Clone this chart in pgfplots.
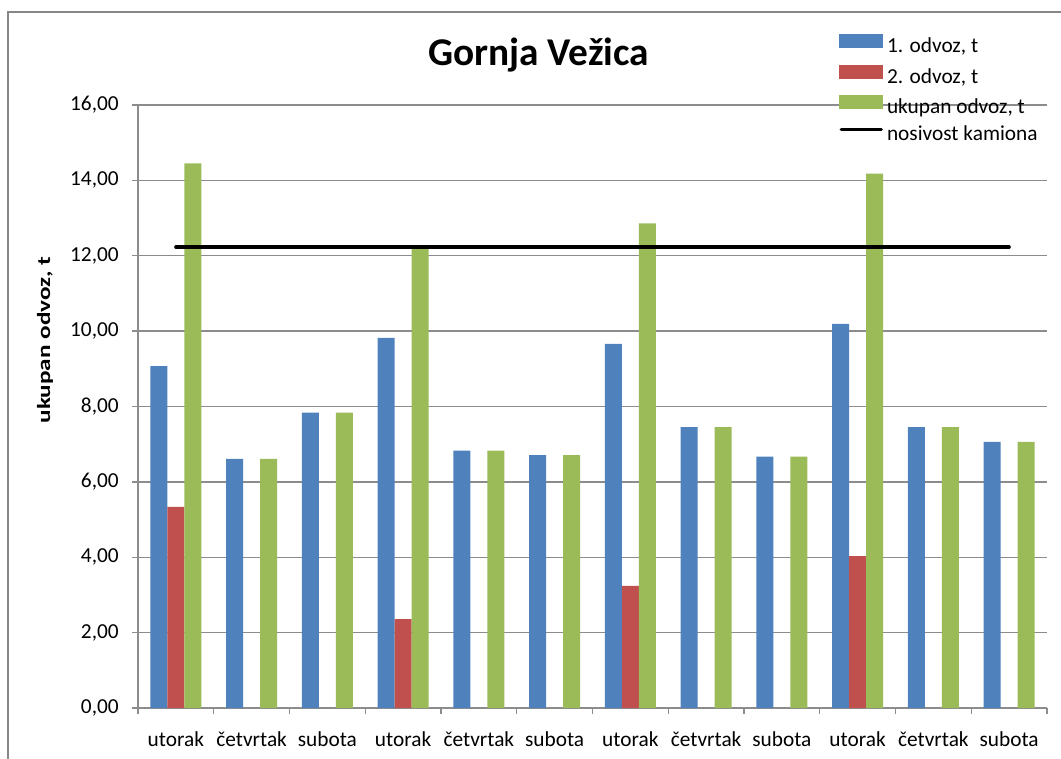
\documentclass[border=0pt]{standalone}
\usepackage{fontspec}
\setmainfont{Carlito}
\usepackage{pgfplots}
\pgfplotsset{compat=1.18}
\definecolor{cBlue}{HTML}{4F81BD}
\definecolor{cRed}{HTML}{C0504D}
\definecolor{cGreen}{HTML}{9BBB59}
\definecolor{cAxis}{HTML}{8C8C8C}
\definecolor{cFrame}{HTML}{878787}
\begin{document}
\begin{tikzpicture}[x=1pt,y=1pt]
\path[use as bounding box] (0,0) rectangle (795.75,568.5);
\draw[cFrame, line width=1.1pt] (6,-2) -- (6,559.5) -- (798,559.5);
\node[font=\fontsize{29.5}{33}\selectfont\bfseries, anchor=base] at (404,519) {Gornja Vežica};
\node[rotate=90, anchor=center] at (33.75,313.5) {\scalebox{1.35}[1]{\fontsize{14}{16}\selectfont\bfseries ukupan odvoz, t}};
\begin{axis}[
  at={(103.5pt,37.5pt)}, anchor=south west,
  scale only axis, width=681.75pt, height=452.25pt,
  xmin=-0.5, xmax=11.5, ymin=0, ymax=16,
  ytick={0,2,...,16},
  xtick={-0.5,0.5,...,11.5},
  xticklabels={utorak,četvrtak,subota,utorak,četvrtak,subota,utorak,četvrtak,subota,utorak,četvrtak,subota,{}},
  axis x line*=bottom, axis y line*=left,
  axis line style={cAxis, line width=1pt, -},
  ymajorgrids, grid style={cAxis, line width=1pt},
  tick align=outside, major tick length=4.5pt,
  tick style={cAxis, line width=1pt},
  /pgf/number format/assume math mode=true,
  tick label style={font=\fontsize{16}{19}\selectfont, text=black},
  yticklabel style={/pgf/number format/fixed, /pgf/number format/fixed zerofill, /pgf/number format/precision=2, /pgf/number format/use comma, inner sep=0pt, anchor=east, xshift=-9.75pt},
  xticklabel style={inner sep=0pt, anchor=base, xshift=28.406pt, yshift=-24pt},
  legend style={at={(axis description cs:0.7712,1.1177)}, anchor=north west, draw=none, fill=none,
    font=\fontsize{16}{19}\selectfont, inner sep=0pt, row sep=5.6pt, column sep=2.8pt,
    nodes={inner sep=0pt, text height=11pt, text depth=3.5pt}},
  legend cell align=left,
]
\addplot[ybar, bar width=0.225, bar shift=-0.225, fill=cBlue, draw=none,
  legend image code/.code={\fill[cBlue] (0pt,-0.5pt) rectangle (33pt,10pt);}]
  coordinates {(0,9.07) (1,6.61) (2,7.84) (3,9.82) (4,6.83) (5,6.71) (6,9.66) (7,7.45) (8,6.67) (9,10.19) (10,7.45) (11,7.06)};
\addlegendentry{1. odvoz, t}
\addplot[ybar, bar width=0.225, bar shift=0, fill=cRed, draw=none,
  legend image code/.code={\fill[cRed] (0pt,-0.5pt) rectangle (33pt,10pt);}]
  coordinates {(0,5.34) (3,2.36) (6,3.24) (9,4.03)};
\addlegendentry{2. odvoz, t}
\addplot[ybar, bar width=0.225, bar shift=0.225, fill=cGreen, draw=none,
  legend image code/.code={\fill[cGreen] (0pt,-0.5pt) rectangle (33pt,10pt);}]
  coordinates {(0,14.45) (1,6.61) (2,7.84) (3,12.18) (4,6.83) (5,6.71) (6,12.86) (7,7.45) (8,6.67) (9,14.18) (10,7.45) (11,7.06)};
\addlegendentry{ukupan odvoz, t}
\addplot[black, line width=2.5pt, line cap=round, mark=none,
  legend image code/.code={\draw[black,line width=2.5pt,line cap=round] (1.5pt,4.5pt) -- (31.5pt,4.5pt);}]
  coordinates {(0,12.23) (1,12.23) (2,12.23) (3,12.23) (4,12.23) (5,12.23) (6,12.23) (7,12.23) (8,12.23) (9,12.23) (10,12.23) (11,12.23)};
\addlegendentry{nosivost kamiona}
\end{axis}
\end{tikzpicture}
\end{document}
